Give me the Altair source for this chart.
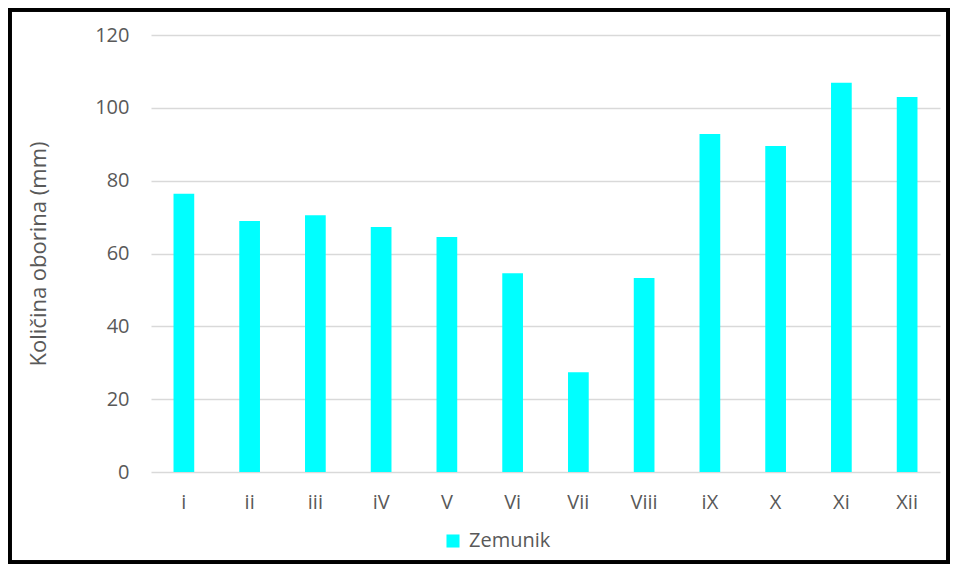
import altair as alt
import pandas as pd

months = ["i", "ii", "iii", "iV", "V", "Vi", "Vii", "Viii", "iX", "X", "Xi", "Xii"]
values = [76.4, 68.9, 70.5, 67.3, 64.5, 54.6, 27.4, 53.3, 92.8, 89.5, 106.9, 103.0]
series = ["Zemunik"] * len(months)

df = pd.DataFrame({"mjesec": months, "oborina": values, "postaja": series})

FONT = "Open Sans"
GREY = "#595959"

bars = alt.Chart(df).mark_bar(color="#00FFFF").encode(
    x=alt.X("mjesec:N", sort=months,
            scale=alt.Scale(paddingInner=0.685, paddingOuter=0.3425),
            axis=alt.Axis(title=None, labelAngle=0, ticks=False, domain=False,
                          labelPadding=20, labelFontSize=20, labelColor=GREY,
                          labelFont=FONT, grid=False)),
    y=alt.Y("oborina:Q", scale=alt.Scale(domain=[0, 120], nice=False),
            axis=alt.Axis(title="Količina oborina (mm)", values=[0, 20, 40, 60, 80, 100, 120],
                          ticks=False, domain=False, labelPadding=22, labelFontSize=20,
                          labelColor=GREY, labelFont=FONT, gridColor="#d9d9d9",
                          gridWidth=1.5, titleFont=FONT, titleFontSize=22,
                          titleFontWeight="normal", titleColor=GREY, titlePadding=44)),
    fill=alt.Fill("postaja:N", scale=alt.Scale(range=["#00FFFF"]),
                  legend=alt.Legend(title=None, orient="none", legendX=292, legendY=496,
                                    symbolType="square", symbolSize=170,
                                    symbolStrokeWidth=0, labelFontSize=20,
                                    labelColor=GREY, labelFont=FONT, labelOffset=6)),
)

frame = alt.Chart(df).mark_rect(fill=None, stroke="black", strokeWidth=3.5).encode(
    x=alt.value(-141.5), x2=alt.value(797.5), y=alt.value(-25.5), y2=alt.value(527.5)
)

chart = alt.layer(bars, frame).properties(
    width=789, height=437,
    autosize=alt.AutoSizeParams(type="none"),
    padding={"left": 143, "top": 27, "right": 10, "bottom": 92},
).configure(background="white").configure_view(stroke=None)

chart.save("out.html", embed_options={"renderer": "svg", "actions": False})
